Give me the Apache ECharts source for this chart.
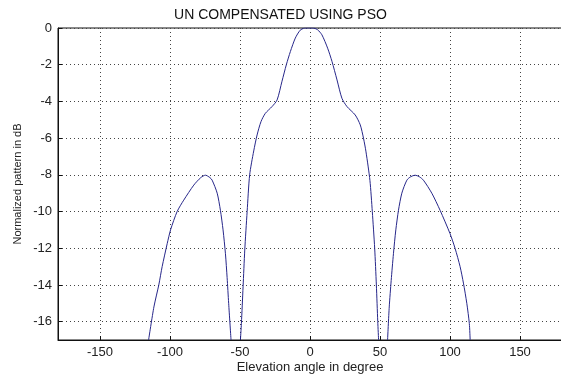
<!DOCTYPE html>
<html>
<head>
<meta charset="utf-8">
<script src="https://cdn.jsdelivr.net/npm/echarts@6/dist/echarts.min.js"></script>
<style>
  html, body { margin: 0; padding: 0; background: #fff; }
  #chart { width: 561px; height: 374px; }
</style>
</head>
<body>
<div id="chart"></div>
<script>
// Radiation pattern (normalized, dB) versus elevation angle.
// Each lobe is a separate trace; the lower parts fall below the -17 dB floor.
const mainLobeAngle = [-49.7, -49, -47.8, -46.6, -44.9, -43.1, -40.2, -37.8, -35, -31.9, -27.1, -23.5, -20, -16.9, -14, -10.5, -7, -4, 0, 3, 5.5, 8.5, 12.6, 15.7, 19.3, 22.8, 26.4, 32.3, 35.9, 38.2, 40, 42.8, 44.5, 46.2, 47.4, 48.4, 49];
const mainLobeDb = [-17, -16.1, -14.1, -12.1, -10, -8, -6.7, -5.83, -5.1, -4.65, -4.28, -3.92, -2.9, -2.0, -1.28, -0.55, -0.12, -0.01, 0, -0.01, -0.1, -0.37, -1.1, -1.82, -2.83, -3.83, -4.28, -4.74, -5.28, -6.0, -6.75, -8.3, -10, -12, -14, -16, -17];

const leftLobeAngle = [-115.3, -111.5, -108, -105.6, -102, -99.6, -94.9, -90.2, -83, -78, -74.7, -71.5, -69.9, -66.3, -64, -62.1, -60.4, -59.2, -58.1, -56.4];
const leftLobeDb = [-17, -15.2, -14, -13, -11.75, -11, -10, -9.38, -8.56, -8.15, -8.02, -8.15, -8.29, -9.0, -9.93, -11, -12.3, -13.6, -15, -17];

const rightLobeAngle = [55.4, 56.6, 58, 59.6, 61.3, 63.2, 65.6, 69.2, 72, 75.1, 78, 81, 87, 92.9, 100, 103.6, 107.2, 109.6, 112, 113.8, 114.4];
const rightLobeDb = [-17, -15.2, -13.75, -12.3, -11, -9.93, -9, -8.29, -8.1, -8.02, -8.1, -8.29, -9, -9.93, -11.2, -12, -13, -13.9, -15, -16.1, -17];

const xTicks = [-150, -100, -50, 0, 50, 100, 150];
const yTicks = [-16, -14, -12, -10, -8, -6, -4, -2, 0];

const FONT = '"Liberation Sans", Arial, sans-serif';
const LINE_COLOR = '#27278a';

function pairs(xs, ys) {
  return xs.map((x, i) => [x, ys[i]]);
}

function lobeSeries(xs, ys) {
  return {
    type: 'line',
    data: pairs(xs, ys),
    showSymbol: false,
    smooth: 0.25,
    clip: true,
    lineStyle: { color: LINE_COLOR, width: 1 },
    emphasis: { disabled: true },
    z: 3
  };
}

const chart = echarts.init(document.getElementById('chart'), null, { renderer: 'canvas' });
chart.setOption({
  animation: false,
  backgroundColor: '#fff',
  title: {
    text: 'UN COMPENSATED USING PSO',
    left: 'center',
    top: 3,
    textStyle: { fontFamily: FONT, fontSize: 14, fontWeight: 'normal', color: '#111' }
  },
  grid: {
    left: 58, right: -1, top: 28, bottom: 34,
    outerBoundsMode: 'none',
    containLabel: false,
    show: true, borderColor: '#111', borderWidth: 1, backgroundColor: '#fff'
  },
  xAxis: {
    type: 'value',
    min: -180, max: 180,
    name: 'Elevation angle in degree',
    nameLocation: 'middle',
    nameGap: 21,
    nameMoveOverlap: false,
    nameTextStyle: { fontFamily: FONT, fontSize: 13, color: '#222', verticalAlign: 'top' },
    axisLine: { show: true, onZero: false, lineStyle: { color: '#111', width: 1 } },
    axisTick: { show: true, inside: true, length: 4, customValues: xTicks, lineStyle: { color: '#111' } },
    axisLabel: { customValues: xTicks, margin: 6, fontFamily: FONT, fontSize: 13, color: '#222' },
    splitLine: { show: true, lineStyle: { color: '#444', width: 1, type: [1, 3] } }
  },
  yAxis: {
    type: 'value',
    min: -17, max: 0,
    name: 'Normalized pattern in dB',
    nameLocation: 'middle',
    nameRotate: 90,
    nameGap: 35,
    nameMoveOverlap: false,
    nameTextStyle: { fontFamily: FONT, fontSize: 11, color: '#222' },
    axisLine: { show: true, onZero: false, lineStyle: { color: '#111', width: 1 } },
    axisTick: { show: true, inside: true, length: 4, customValues: yTicks, lineStyle: { color: '#111' } },
    axisLabel: { customValues: yTicks, margin: 6, fontFamily: FONT, fontSize: 13, color: '#222' },
    splitLine: { show: true, lineStyle: { color: '#444', width: 1, type: [1, 3] } }
  },
  series: [
    lobeSeries(leftLobeAngle, leftLobeDb),
    lobeSeries(mainLobeAngle, mainLobeDb),
    lobeSeries(rightLobeAngle, rightLobeDb)
  ]
});
</script>
</body>
</html>
